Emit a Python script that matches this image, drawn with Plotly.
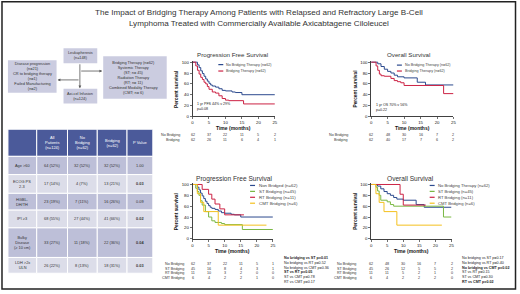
import plotly.graph_objects as go

W, H = 520, 294
FONT = "Liberation Sans, Arial, sans-serif"

def px(x):
    return x / W

def py(y):
    return 1 - y / H

# ---------------- data ----------------
title_lines = ["The Impact of Bridging Therapy Among Patients with Relapsed and Refractory Large B-Cell",
               "Lymphoma Treated with Commercially Available Axicabtagene Ciloleucel"]

month_ticks = [0, 5, 10, 15, 20, 25]
pct_ticks = [0, 20, 40, 60, 80, 100]

# Top-left PFS
pfs_nb_t = [0, 1.5, 2, 2.5, 3, 3.5, 4, 4.5, 5, 5.5, 6, 7, 8, 9, 10, 12, 13, 15, 25]
pfs_nb_s = [100, 95, 90, 84, 79, 74, 69, 65, 61, 58, 56, 54, 51, 48, 47, 45, 44, 40, 40]
pfs_b_t = [0, 1, 1.5, 2, 2.5, 3, 3.5, 4, 4.5, 5, 6, 7, 8, 9, 10, 11, 15.5, 25]
pfs_b_s = [100, 93, 85, 78, 72, 68, 63, 60, 55, 50, 45, 43, 38, 33, 30, 29, 23, 23]

# Top-right OS
os_nb_t = [0, 2, 3, 4, 5, 6, 7, 8, 10, 14, 16.5, 25]
os_nb_s = [100, 97, 92, 87, 83, 80, 76, 73, 71, 63, 58, 58]
os_b_t = [0, 1.5, 2, 2.5, 3, 4, 6, 7, 8, 9, 10, 22, 25]
os_b_s = [100, 93, 85, 78, 75, 74, 70, 66, 64, 62, 57, 42, 42]

# Bottom-left PFS by bridging type
pfs_st_t = [0, 1, 1.5, 2, 2.5, 3, 4, 5, 6, 7, 9, 10, 15.5, 25]
pfs_st_s = [100, 93, 87, 80, 70, 62, 50, 40, 33, 30, 28, 26, 17, 17]
pfs_rt_t = [0, 3, 5, 6, 7, 8.5, 10, 16]
pfs_rt_s = [100, 91, 82, 73, 64, 55, 44, 44]
pfs_cmt_t = [0, 1.5, 2.5, 3.5, 8, 23]
pfs_cmt_s = [100, 83, 67, 50, 25, 25]

# Bottom-right OS by bridging type
os_st_t = [0, 1.5, 2, 2.5, 3, 5, 6, 7, 22, 22.5, 25]
os_st_s = [100, 95, 88, 80, 71, 68, 63, 60, 60, 40, 40]
os_rt_t = [0, 9, 10, 17]
os_rt_s = [100, 82, 62, 62]
os_cmt_t = [0, 1.5, 2.5, 4, 8, 22]
os_cmt_s = [100, 83, 67, 50, 25, 25]

# risk tables
top_pfs_risk_labels = ["No Bridging", "Bridging"]
top_pfs_risk = [[62, 37, 22, 11, 5, 2], [62, 26, 11, 6, 4, 1]]
top_os_risk_labels = ["No Bridging", "Bridging"]
top_os_risk = [[62, 48, 30, 16, 7, 2], [62, 40, 17, 7, 6, 2]]
bot_risk_labels = ["No Bridging", "ST Bridging", "RT Bridging", "CMT Bridging"]
bot_pfs_risk = [[62, 37, 22, 11, 5, 1], [45, 16, 8, 4, 3, 1], [11, 10, 3, 2, 0, 0], [6, 4, 2, 2, 1, 0]]
bot_os_risk = [[62, 48, 30, 16, 7, 2], [45, 26, 12, 5, 5, 2], [11, 11, 5, 2, 1, 0], [6, 4, 2, 2, 2, 0]]

pfs_pvals = ["No bridging vs ST p=0.01", "No bridging vs RT p=0.52", "No bridging vs CMT p=0.36",
             "ST vs RT p=0.05", "ST vs CMT p=0.78", "RT vs CMT p=0.17"]
pfs_pbold = [True, False, False, True, False, False]
os_pvals = ["No bridging vs ST p=0.17", "No bridging vs RT p=0.40", "No bridging vs CMT p=0.02",
            "ST vs RT p=0.15", "ST vs CMT p=0.30", "RT vs CMT p=0.02"]
os_pbold = [False, False, True, False, False, True]

top_legend = ["No Bridging Therapy (n=62)", "Bridging Therapy (n=62)"]
bl_legend = ["Non Bridged (n=62)", "ST Bridging (n=45)", "RT Bridging (n=11)", "CMT Bridging (n=6)"]
br_legend = ["No Bridging Therapy (n=62)", "ST Bridging (n=45)", "RT Bridging (n=11)", "CMT Bridging (n=6)"]

table_header = ["", "All<br>Patients<br>(n=124)", "No<br>Bridging<br>(n=62)", "Bridging<br>(n=62)", "P Value"]
table_rows = [
    ["Age >60", "64 (52%)", "32 (52%)", "32 (52%)", "1.00"],
    ["ECOG PS<br>2-3", "17 (14%)", "4 (7%)", "13 (21%)", "0.03"],
    ["HGBL-<br>DH/TH", "23 (19%)", "7 (11%)", "16 (26%)", "0.09"],
    ["IPI ≥3", "68 (55%)", "27 (44%)", "41 (66%)", "0.02"],
    ["Bulky<br>Disease<br>(≥ 10 cm)", "33 (27%)", "11 (18%)", "22 (36%)", "0.04"],
    ["LDH >2x<br>ULN", "26 (22%)", "8 (13%)", "18 (31%)", "0.03"],
]
p_bold = [False, True, False, True, True, True]

# ---------------- style ----------------
BLUE = "#2c4a8e"
RED = "#cc2244"
GREEN = "#7ab843"
YELLOW = "#f4c01e"
BOX = "#cbcce0"
HEAD = "#4b5a9a"
DARK = "#bdbfd8"
LIGHT = "#dcdde9"
TXT = "#333333"

fig = go.Figure()
shapes = []
ann = []

def text(x, y, s, size=4, color=TXT, xa="center", ya="middle", angle=0, align="center"):
    ann.append(dict(x=px(x), y=py(y), xref="paper", yref="paper", text=s, showarrow=False,
                    xanchor=xa, yanchor=ya, textangle=angle, align=align,
                    font=dict(size=size, color=color, family=FONT)))

# panels: (x0px, x1px, y(100)px, y(0)px)
panels = {
    "1": (193, 276, 62, 117),
    "2": (373, 456, 62, 117),
    "3": (193, 274, 186, 241),
    "4": (373, 454, 186, 241),
}
YMAX = 102
for k, (x0, x1, y100, y0) in panels.items():
    ytop = y0 - (y0 - y100) * YMAX / 100
    xa = dict(domain=[px(x0), px(x1)], range=[0, 25], tickvals=month_ticks, showline=True,
              linecolor="#111", linewidth=0.8, ticks="outside", ticklen=2, tickwidth=0.6,
              tickcolor="#111", tickfont=dict(size=4.3, color="#111", family=FONT),
              showgrid=False, zeroline=False, fixedrange=True, anchor="y" + ("" if k == "1" else k))
    ya = dict(domain=[py(y0), py(ytop)], range=[0, YMAX], tickvals=pct_ticks, showline=True,
              linecolor="#111", linewidth=0.8, ticks="outside", ticklen=2, tickwidth=0.6,
              tickcolor="#111", tickfont=dict(size=4.3, color="#111", family=FONT),
              showgrid=False, zeroline=False, fixedrange=True, anchor="x" + ("" if k == "1" else k))
    sfx = "" if k == "1" else k
    fig.layout["xaxis" + sfx] = xa
    fig.layout["yaxis" + sfx] = ya

def curve(t, s, color, k):
    sfx = "" if k == "1" else k
    fig.add_trace(go.Scatter(x=t, y=s, mode="lines", line=dict(shape="hv", color=color, width=1),
                             xaxis="x" + sfx, yaxis="y" + sfx, showlegend=False, hoverinfo="skip"))

curve(pfs_nb_t, pfs_nb_s, BLUE, "1")
curve(pfs_b_t, pfs_b_s, RED, "1")
curve(os_nb_t, os_nb_s, BLUE, "2")
curve(os_b_t, os_b_s, RED, "2")
curve(pfs_nb_t, pfs_nb_s, BLUE, "3")
curve(pfs_st_t, pfs_st_s, GREEN, "3")
curve(pfs_rt_t, pfs_rt_s, RED, "3")
curve(pfs_cmt_t, pfs_cmt_s, YELLOW, "3")
curve(os_nb_t, os_nb_s, BLUE, "4")
curve(os_st_t, os_st_s, GREEN, "4")
curve(os_rt_t, os_rt_s, RED, "4")
curve(os_cmt_t, os_cmt_s, YELLOW, "4")

# titles of panels
text(233, 54, "Progression Free Survival", size=6.2)
text(411, 54, "Overall Survival", size=6.2)
text(235, 180, "Progression Free Survival", size=6.6)
text(413, 180, "Overall Survival", size=6.6)

# axis titles
for k, (x0, x1, y100, y0) in panels.items():
    text(x0 - 16, (y100 + y0) / 2, "<b>Percent survival</b>", size=4.8, color="#111", angle=-90)
    text((x0 + x1) / 2, y0 + 12, "<b>Time (months)</b>", size=5, color="#111")

# in-plot notes
text(196, 107, "1 yr PFS 44% v 29%<br>p=0.08", size=3.6, color="#222", xa="left", align="left")
text(376, 108, "1 yr OS 70% v 56%<br>p=0.22", size=3.6, color="#222", xa="left", align="left")

# legends
def legend(xl, xt, ys, labels, colors, size):
    for y, lab, c in zip(ys, labels, colors):
        shapes.append(dict(type="line", xref="paper", yref="paper", x0=px(xl), x1=px(xl + 5),
                           y0=py(y), y1=py(y), line=dict(color=c, width=1.2)))
        text(xt, y, lab, size=size, color="#444", xa="left")

legend(219, 225, [64.5, 71], top_legend, [BLUE, RED], 3.7)
legend(399, 405, [65, 71], top_legend, [BLUE, RED], 3.7)
legend(251, 258, [187, 193, 199, 205], bl_legend, [BLUE, GREEN, RED, YELLOW], 4.4)
legend(432, 438, [187, 193, 199, 205], br_legend, [BLUE, GREEN, RED, YELLOW], 4.2)

# risk tables
def risk(xref, lab_x, ys, labels, rows):
    for y, lab, row in zip(ys, labels, rows):
        text(lab_x, y, lab, size=3.7, color="#333", xa="right")
        for m, v in zip(month_ticks, row):
            ann.append(dict(x=m, y=py(y), xref=xref, yref="paper", text=str(v), showarrow=False,
                            xanchor="center", yanchor="middle",
                            font=dict(size=3.7, color="#333", family=FONT)))

risk("x", 182, [136, 140.5], top_pfs_risk_labels, top_pfs_risk)
risk("x2", 352, [136, 140.5], top_os_risk_labels, top_os_risk)
bot_ys = [267, 271.5, 276, 280.5]
risk("x3", 186, bot_ys, bot_risk_labels, bot_pfs_risk)
risk("x4", 360, bot_ys, bot_risk_labels, bot_os_risk)

for i, (s, b) in enumerate(zip(pfs_pvals, pfs_pbold)):
    text(283, 261 + 4.7 * i, "<b>%s</b>" % s if b else s, size=3.7, color="#222", xa="left")
for i, (s, b) in enumerate(zip(os_pvals, os_pbold)):
    text(463, 261 + 4.7 * i, "<b>%s</b>" % s if b else s, size=3.7, color="#222", xa="left")

# ---------------- flowchart ----------------
def box(x0, y0, x1, y1, fill=BOX):
    shapes.append(dict(type="rect", xref="paper", yref="paper", x0=px(x0), x1=px(x1),
                       y0=py(y1), y1=py(y0), fillcolor=fill, line=dict(width=0), layer="below"))

box(63, 48, 97, 63)
text(80, 55.5, "Leukapheresis<br>(n=148)", size=3.8)
box(7, 60, 56, 93)
text(31.5, 76.5, "Disease progression<br>(n=21)<br>CR to bridging therapy<br>(n=1)<br>Failed Manufacturing<br>(n=2)",
     size=3.9)
box(103, 56, 167, 99)
text(134, 77.5, "Bridging Therapy (n=62)<br>Systemic Therapy<br>(ST; n= 45)<br>Radiation Therapy<br>(RT; n= 11)<br>"
     "Combined Modality Therapy<br>(CMT; n= 6)", size=3.9)
box(63, 89, 97, 104)
text(80, 96.5, "Axi-cel Infusion<br>(n=124)", size=3.8)

def arrow(hx, hy, tx, ty):
    ann.append(dict(x=px(hx), y=py(hy), xref="paper", yref="paper", ax=tx - hx, ay=ty - hy,
                    axref="pixel", ayref="pixel", text="", showarrow=True, arrowhead=2,
                    arrowsize=0.7, arrowwidth=0.8, arrowcolor="#555"))

arrow(79.5, 88.5, 79.5, 63)
arrow(102, 71, 79.5, 71)
arrow(57, 80, 79.5, 80)

# ---------------- table ----------------
col_x = [7, 36, 67, 97, 127, 153]
row_y = [130, 157.5, 176, 195, 212, 230, 260, 276]
for j in range(5):
    shapes.append(dict(type="rect", xref="paper", yref="paper", x0=px(col_x[j]), x1=px(col_x[j + 1]),
                       y0=py(row_y[1]), y1=py(row_y[0]), fillcolor=HEAD,
                       line=dict(color="white", width=1), layer="below"))
    if table_header[j]:
        text((col_x[j] + col_x[j + 1]) / 2, (row_y[0] + row_y[1]) / 2, table_header[j], size=4, color="white")
for i, row in enumerate(table_rows):
    fill = DARK if i % 2 == 0 else LIGHT
    ya, yb = row_y[i + 1], row_y[i + 2]
    for j in range(5):
        shapes.append(dict(type="rect", xref="paper", yref="paper", x0=px(col_x[j]), x1=px(col_x[j + 1]),
                           y0=py(yb), y1=py(ya), fillcolor=fill,
                           line=dict(color="white", width=1), layer="below"))
        s = row[j]
        if j == 4 and p_bold[i]:
            s = "<b>%s</b>" % s
        text((col_x[j] + col_x[j + 1]) / 2, (ya + yb) / 2, s, size=3.9, color="#333")

# ---------------- title + frame ----------------
text(260, 17.5, "<br>".join(title_lines), size=8.1, color="#333")
shapes.append(dict(type="rect", xref="paper", yref="paper", x0=px(1), x1=px(518.5), y0=py(292), y1=py(0.8),
                   line=dict(color="#222", width=1.5), fillcolor="rgba(0,0,0,0)"))

fig.update_layout(width=W, height=H, margin=dict(l=0, r=0, t=0, b=0), paper_bgcolor="white",
                  plot_bgcolor="white", shapes=shapes, annotations=ann, showlegend=False,
                  font=dict(family=FONT))

fig.write_html("out.html", config={"displayModeBar": False, "staticPlot": True},
               post_script="document.body.style.margin='0';document.body.style.overflow='hidden';")
